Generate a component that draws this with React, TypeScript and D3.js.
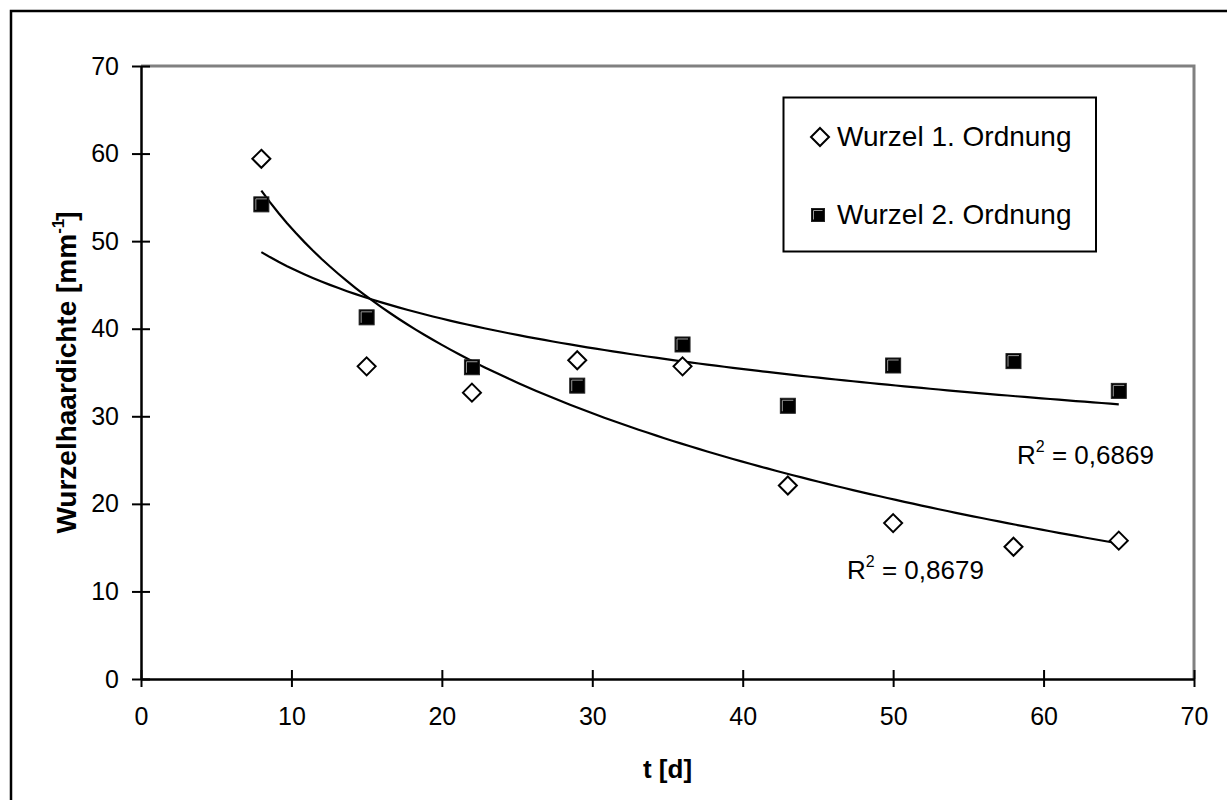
import React, { useEffect, useRef } from "react";
import * as d3 from "d3";

const W = 1227;
const H = 800;

// data
const days = [8, 15, 22, 29, 36, 43, 50, 58, 65];
const order1 = [59.4, 35.7, 32.7, 36.4, 35.7, 22.1, 17.8, 15.1, 15.8];
const order2 = [54.2, 41.3, 35.6, 33.5, 38.2, 31.2, 35.8, 36.3, 32.9];
const seriesNames = ["Wurzel 1. Ordnung", "Wurzel 2. Ordnung"];
const r2Labels = ["0,8679", "0,6869"];
const xTicks = [0, 10, 20, 30, 40, 50, 60, 70];
const yTicks = [0, 10, 20, 30, 40, 50, 60, 70];

const font = "'Liberation Sans', Arial, sans-serif";

// logarithmic trend y = a + b ln(x), least squares
const logFit = (xs: number[], ys: number[]) => {
  const lx = xs.map((v) => Math.log(v));
  const mx = d3.mean(lx) as number;
  const my = d3.mean(ys) as number;
  const b =
    d3.sum(lx, (v, i) => (v - mx) * (ys[i] - my)) /
    d3.sum(lx, (v) => (v - mx) * (v - mx));
  const a = my - b * mx;
  return (x: number) => a + b * Math.log(x);
};

const App = () => {
  const ref = useRef<SVGSVGElement>(null);

  useEffect(() => {
    const svg = d3.select(ref.current);
    svg.selectAll("*").remove();

    const left = 141, right = 1194, top = 66, bottom = 679;
    const x = d3.scaleLinear([0, 70], [left, right]);
    const y = d3.scaleLinear([0, 70], [bottom, top]);

    svg.append("rect").attr("width", W).attr("height", H).attr("fill", "#fff");

    // outer chart border
    svg.append("rect")
      .attr("x", 11).attr("y", 11)
      .attr("width", W + 20).attr("height", H + 20)
      .attr("fill", "none").attr("stroke", "#000").attr("stroke-width", 2.5);

    // plot area border (top & right, grey)
    svg.append("path")
      .attr("d", `M${left},${top}H${right}V${bottom}`)
      .attr("fill", "none").attr("stroke", "#808080").attr("stroke-width", 3);

    // y axis
    const yAxis = svg.append("g").attr("transform", `translate(${left},0)`)
      .call(d3.axisLeft(y).tickValues(yTicks).tickSize(0).tickPadding(22).tickFormat(d3.format("d")));
    yAxis.select(".domain").attr("stroke", "#000").attr("stroke-width", 2.5);
    yAxis.selectAll(".tick").append("line")
      .attr("x1", -9).attr("x2", 9).attr("stroke", "#000").attr("stroke-width", 2);
    yAxis.selectAll("text").attr("font-family", font).attr("font-size", 25).attr("fill", "#000");

    // x axis
    const xAxis = svg.append("g").attr("transform", `translate(0,${bottom})`)
      .call(d3.axisBottom(x).tickValues(xTicks).tickSize(0).tickPadding(28).tickFormat(d3.format("d")));
    xAxis.select(".domain").attr("stroke", "#000").attr("stroke-width", 2.5);
    xAxis.selectAll(".tick").append("line")
      .attr("y1", -9).attr("y2", 8).attr("stroke", "#000").attr("stroke-width", 2);
    xAxis.selectAll("text").attr("font-family", font).attr("font-size", 25).attr("fill", "#000");

    // axis titles
    svg.append("text")
      .attr("x", (left + right) / 2).attr("y", 778)
      .attr("text-anchor", "middle")
      .attr("font-family", font).attr("font-size", 26).attr("font-weight", "bold")
      .text("t [d]");

    const yt = svg.append("text")
      .attr("transform", `translate(76,${(top + bottom) / 2}) rotate(-90)`)
      .attr("text-anchor", "middle")
      .attr("font-family", font).attr("font-size", 28).attr("font-weight", "bold");
    yt.append("tspan").text("Wurzelhaardichte [mm");
    yt.append("tspan").attr("font-size", 17).attr("dy", -12).text("-1");
    yt.append("tspan").attr("dy", 12).attr("dx", -2).text("]");

    // trend lines
    const fits = [logFit(days, order1), logFit(days, order2)];
    const xs = d3.range(0, 101).map((i) => days[0] + ((days[days.length - 1] - days[0]) * i) / 100);
    const line = d3.line<number>().x((d) => x(d));
    fits.forEach((f) => {
      svg.append("path")
        .datum(xs)
        .attr("fill", "none").attr("stroke", "#000").attr("stroke-width", 2.2)
        .attr("d", line.y((d) => y(f(d)))(xs) as string);
    });

    const diamond = (g: d3.Selection<any, any, any, any>, cx: number, cy: number) =>
      g.append("path")
        .attr("d", `M${cx},${cy - 9}L${cx + 9},${cy}L${cx},${cy + 9}L${cx - 9},${cy}Z`)
        .attr("fill", "#fff").attr("stroke", "#000").attr("stroke-width", 2);

    const square = (g: d3.Selection<any, any, any, any>, cx: number, cy: number, s = 14) => {
      g.append("rect")
        .attr("x", cx - s / 2).attr("y", cy - s / 2).attr("width", s).attr("height", s)
        .attr("fill", "#000").attr("stroke", "#222").attr("stroke-width", 1);
      g.append("path")
        .attr("d", `M${cx - s / 2 + 2},${cy + s / 2 - 2}V${cy - s / 2 + 2}H${cx + s / 2 - 2}`)
        .attr("fill", "none").attr("stroke", "#999").attr("stroke-width", 1);
    };

    const pts = svg.append("g");
    days.forEach((d, i) => square(pts, x(d), y(order2[i]), 15));
    days.forEach((d, i) => diamond(pts, x(d), y(order1[i])));

    // R² labels
    const r2 = (lx: number, ly: number, val: string) => {
      const t = svg.append("text").attr("x", lx).attr("y", ly)
        .attr("font-family", font).attr("font-size", 26).attr("fill", "#000");
      t.append("tspan").text("R");
      t.append("tspan").attr("font-size", 16).attr("dy", -12).text("2");
      t.append("tspan").attr("dy", 12).text(` = ${val}`);
    };
    r2(847, 579, r2Labels[0]);
    r2(1017, 464, r2Labels[1]);

    // legend
    const lg = svg.append("g");
    lg.append("rect")
      .attr("x", 783.5).attr("y", 97.5).attr("width", 312.5).attr("height", 154)
      .attr("fill", "#fff").attr("stroke", "#000").attr("stroke-width", 2);
    diamond(lg, 820, 137);
    square(lg, 818, 215, 13);
    [146, 224].forEach((ly, i) => {
      lg.append("text").attr("x", 837).attr("y", ly)
        .attr("font-family", font).attr("font-size", 28).attr("fill", "#000")
        .text(seriesNames[i]);
    });
  }, []);

  return (
    <svg
      ref={ref}
      width={W}
      height={H}
      style={{ position: "absolute", left: 0, top: 0, display: "block" }}
    />
  );
};

export default App;
